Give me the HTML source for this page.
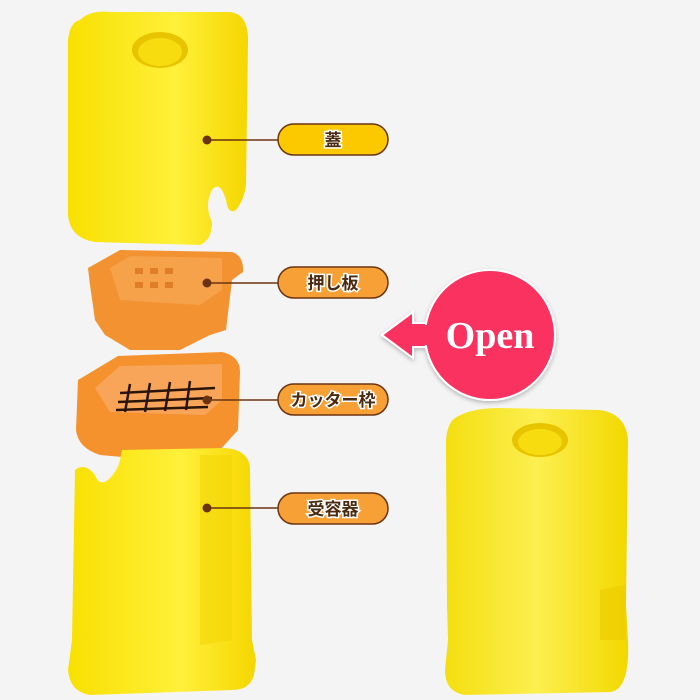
<!DOCTYPE html>
<html><head><meta charset="utf-8"><style>
html,body{margin:0;padding:0;background:#f4f4f4}
svg{display:block}
.lbl{font-family:"Liberation Sans","Noto Sans CJK JP",sans-serif;font-size:17px;font-weight:bold;fill:#4a2a10;stroke:#fff;stroke-width:3;paint-order:stroke;text-anchor:middle}
</style></head><body>
<svg width="700" height="700" viewBox="0 0 700 700">
<defs>
<linearGradient id="y1" x1="0" x2="1"><stop offset="0" stop-color="#f8e000"/><stop offset="0.6" stop-color="#fff03a"/><stop offset="1" stop-color="#f5d600"/></linearGradient>
<linearGradient id="y2" x1="0" x2="1"><stop offset="0" stop-color="#f4de10"/><stop offset="0.5" stop-color="#fcef50"/><stop offset="1" stop-color="#f2d800"/></linearGradient>
<filter id="sh"><feDropShadow dx="0" dy="2" stdDeviation="2" flood-opacity="0.25"/></filter>
</defs>
<rect width="700" height="700" fill="#f4f4f4"/>
<!-- lid -->
<path d="M80 20 Q90 10 110 12 L230 12 Q248 14 248 40 L246 185 Q244 200 236 210 Q228 215 226 200 Q220 180 212 190 Q204 205 212 222 Q212 240 200 245 L95 242 Q70 238 68 215 L68 40 Q70 22 80 20Z" fill="url(#y1)"/>
<ellipse cx="160" cy="50" rx="28" ry="18" fill="#e8c400"/>
<ellipse cx="160" cy="52" rx="22" ry="14" fill="#f7dc10"/>
<!-- pusher -->
<path d="M88 268 L120 250 L232 252 Q244 256 243 272 L232 280 L226 330 L210 335 L180 350 L130 350 L105 335 L95 320 L90 285 Z" fill="#f39231"/>
<path d="M110 268 L130 256 L222 258 L222 290 L200 305 L120 300 Z" fill="#f6a24a"/>
<g fill="#e07d28"><rect x="135" y="268" width="8" height="6"/><rect x="150" y="268" width="8" height="6"/><rect x="165" y="268" width="8" height="6"/><rect x="135" y="282" width="8" height="6"/><rect x="150" y="282" width="8" height="6"/><rect x="165" y="282" width="8" height="6"/></g>
<!-- cutter frame -->
<path d="M78 380 L118 356 L222 352 Q240 356 240 372 L238 430 L220 450 L180 462 L100 455 Q78 448 76 430 Z" fill="#f5922e"/>
<path d="M95 388 L120 366 L222 364 L222 400 L205 415 L110 412 Z" fill="#f8a55a"/>
<g stroke="#2a1408" stroke-width="2.5"><line x1="120" y1="393" x2="215" y2="388"/><line x1="118" y1="402" x2="212" y2="398"/><line x1="116" y1="410" x2="208" y2="407"/><line x1="130" y1="384" x2="125" y2="412"/><line x1="150" y1="383" x2="145" y2="412"/><line x1="170" y1="382" x2="165" y2="411"/><line x1="190" y1="381" x2="186" y2="410"/></g>
<!-- receptacle -->
<path d="M75 470 Q85 462 95 475 Q100 488 110 478 Q118 470 120 460 L122 450 L225 448 Q250 450 250 470 L252 640 L256 660 L254 675 Q250 690 232 690 L90 695 Q70 692 68 670 L72 640 Z" fill="url(#y1)"/>
<path d="M200 455 L232 455 L232 640 L200 645 Z" fill="#f2d400" opacity="0.5"/>
<!-- right assembled -->
<path d="M455 418 Q470 408 500 408 L600 410 Q626 414 628 440 L626 605 L628 640 Q630 690 610 692 L465 695 Q445 692 445 670 L448 640 L447 605 L446 450 Q445 425 455 418Z" fill="url(#y2)"/>
<ellipse cx="540" cy="440" rx="28" ry="17" fill="#e8c400"/>
<ellipse cx="540" cy="442" rx="22" ry="13" fill="#f7dc10"/>
<path d="M600 590 L626 585 L626 640 L600 640 Z" fill="#ecca00" opacity="0.6"/>
<!-- connectors -->
<g stroke="#6b3410" stroke-width="1.6"><line x1="207" y1="140" x2="278" y2="140"/><line x1="207" y1="283" x2="278" y2="283"/><line x1="207" y1="400" x2="278" y2="400"/><line x1="207" y1="508" x2="278" y2="508"/></g>
<g fill="#6b3410"><circle cx="207" cy="140" r="4.5"/><circle cx="207" cy="283" r="4.5"/><circle cx="207" cy="400" r="4.5"/><circle cx="207" cy="508" r="4.5"/></g>
<!-- pills -->
<g stroke="#6b3410" stroke-width="1.5">
<rect x="278" y="124" width="110" height="31" rx="15.5" fill="#fcc800"/>
<rect x="278" y="267" width="110" height="31" rx="15.5" fill="#f7a035"/>
<rect x="278" y="384" width="110" height="31" rx="15.5" fill="#f7a035"/>
<rect x="278" y="493" width="110" height="31" rx="15.5" fill="#f7a035"/>
</g>
<text class="lbl" x="333" y="146">蓋</text>
<text class="lbl" x="333" y="289">押し板</text>
<text class="lbl" x="333" y="406">カッター枠</text>
<text class="lbl" x="333" y="515">受容器</text>
<!-- Open -->
<g filter="url(#sh)" fill="#fa3260" stroke="#fff" stroke-width="2">
<path d="M382 335 L413 312 L413 323 L440 323 L440 347 L413 347 L413 358 Z"/>
<circle cx="490" cy="335" r="65"/>
</g>
<rect x="410" y="325" width="35" height="20" fill="#fa3260"/>
<text x="490" y="348" font-family="Liberation Serif,serif" font-size="38" font-weight="bold" fill="#fff" text-anchor="middle">Open</text>
</svg>
</body></html>
